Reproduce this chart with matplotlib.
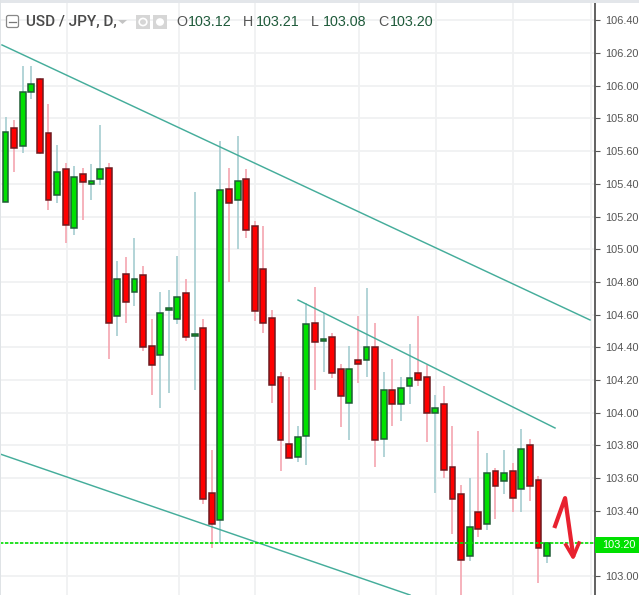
import numpy as np
import matplotlib
matplotlib.use("Agg")
import matplotlib.pyplot as plt
from matplotlib.patches import Rectangle, FancyBboxPatch

plt.rcParams['font.family'] = ['Liberation Sans', 'DejaVu Sans']

# daily candles
opens = [105.29, 105.74, 105.63, 105.96, 106.04, 105.71, 105.33, 105.49,
         105.13, 105.46, 105.40, 105.43, 105.50, 104.59, 104.85, 104.74,
         104.84, 104.41, 104.35, 104.63, 104.57, 104.73, 104.47, 104.52,
         103.51, 103.34, 105.37, 105.30, 105.43, 105.14, 104.88, 104.58,
         104.22, 103.81, 103.73, 103.86, 104.55, 104.44, 104.46, 104.27,
         104.06, 104.32, 104.32, 104.40, 103.84, 104.14, 104.05, 104.16,
         104.24, 104.22, 104.00, 104.05, 103.67, 103.50, 103.12, 103.39,
         103.32, 103.64, 103.58, 103.64, 103.53, 103.80, 103.59, 103.12]
highs = [105.81, 105.79, 106.12, 106.12, 106.05, 105.89, 105.64, 105.53,
         105.51, 105.50, 105.52, 105.76, 105.53, 104.93, 104.95, 105.07,
         104.90, 104.57, 104.74, 104.75, 104.96, 104.82, 105.35, 104.57,
         103.77, 105.66, 105.50, 105.69, 105.49, 105.17, 105.14, 104.63,
         104.25, 104.22, 103.92, 104.67, 104.77, 104.61, 104.49, 104.30,
         104.41, 104.59, 104.76, 104.55, 104.25, 104.33, 104.22, 104.42,
         104.59, 104.29, 104.11, 104.16, 103.92, 103.56, 103.60, 103.89,
         103.75, 103.66, 103.77, 103.69, 103.90, 103.84, 103.61, 103.21]
lows = [105.29, 105.47, 105.59, 105.92, 105.58, 105.24, 105.28, 105.04,
        105.09, 105.18, 105.30, 105.39, 104.33, 104.47, 104.55, 104.65,
        104.38, 104.11, 104.03, 104.12, 104.54, 104.44, 104.14, 103.44,
        103.17, 103.20, 104.80, 105.00, 105.07, 104.56, 104.49, 104.06,
        103.64, 103.72, 103.70, 103.68, 104.14, 104.25, 104.21, 103.91,
        103.83, 104.18, 104.22, 103.67, 103.73, 103.92, 103.95, 104.05,
        104.16, 103.82, 103.51, 103.60, 103.26, 102.88, 103.09, 103.24,
        103.28, 103.35, 103.50, 103.39, 103.39, 103.46, 102.96, 103.08]
closes = [105.72, 105.62, 105.96, 106.01, 105.59, 105.30, 105.47, 105.15,
          105.44, 105.41, 105.42, 105.49, 104.55, 104.82, 104.68, 104.82,
          104.40, 104.29, 104.61, 104.64, 104.71, 104.46, 104.48, 103.47,
          103.32, 105.36, 105.28, 105.42, 105.12, 104.62, 104.55, 104.17,
          103.83, 103.72, 103.85, 104.54, 104.43, 104.45, 104.24, 104.10,
          104.27, 104.30, 104.40, 103.83, 104.14, 104.05, 104.15, 104.21,
          104.20, 104.00, 104.03, 103.65, 103.47, 103.10, 103.30, 103.29,
          103.63, 103.55, 103.63, 103.48, 103.78, 103.55, 103.17, 103.20]

# hand drawn channel lines and arrow, candle number / price
line1_x = [-0.41, 68.0]
line1_y = [106.25, 104.567]
line2_x = [34.03, 63.93]
line2_y = [104.689, 103.906]
line3_x = [-0.64, 47.06]
line3_y = [103.747, 102.884]
arrow_x = [63.93, 65.1, 66.03]
arrow_y = [103.306, 103.477, 103.129]
head_x = [65.2, 66.03, 66.72]
head_y = [103.19, 103.116, 103.202]

price_ticks = [103.0, 103.2, 103.4, 103.6, 103.8, 104.0, 104.2, 104.4, 104.6,
               104.8, 105.0, 105.2, 105.4, 105.6, 105.8, 106.0, 106.2, 106.4]
date_grid = [7.1, 20.13, 29.03, 41.13, 50.09, 59.05, 68.1]
last_price = 103.20

GREEN = '#00e000'
RED = '#ff0000'
TEAL = '#45ad9b'
TEXT = '#555555'
VAL = '#1e5a3a'

fig = plt.figure(figsize=(6.39, 5.95), dpi=100, facecolor='white')
ax = fig.add_axes([0, 0, 595 / 639, 1])
ax.set_xlim(-0.64, 68.58)
ax.set_ylim(102.884, 106.525)
for s in ['top', 'left', 'bottom']:
    ax.spines[s].set_visible(False)
ax.spines['right'].set_color('#555555')
ax.spines['right'].set_linewidth(1.3)
ax.spines['right'].set_bounds(102.884, 106.505)

ax.set_xticks([])
ax.yaxis.tick_right()
ax.set_yticks(price_ticks)
# the last price tag takes the place of the 103.20 label
tick_labels = ['' if p == last_price else '%.2f' % p for p in price_ticks]
ax.set_yticklabels(tick_labels, fontsize=7.9, color=TEXT)
ax.tick_params(axis='y', length=3.5, width=0.8, color='#555555', pad=4)

for p in price_ticks:
    ax.axhline(p, color='#f0f1f2', lw=1.3, zorder=1)
for d in date_grid:
    ax.axvline(d, color='#f0f1f2', lw=1.3, zorder=1)

idx = np.arange(len(opens))
o = np.array(opens)
c = np.array(closes)
up = c >= o

ax.vlines(idx[up], np.array(lows)[up], np.array(highs)[up], color='#a6cdd1', lw=1.2, zorder=2)
ax.vlines(idx[~up], np.array(lows)[~up], np.array(highs)[~up], color='#f5a6b0', lw=1.2, zorder=2)
ax.bar(idx[up], (c - o)[up], bottom=o[up], width=0.68, color=GREEN,
       edgecolor='#1f5c35', linewidth=1.1, zorder=3)
ax.bar(idx[~up], (c - o)[~up], bottom=o[~up], width=0.68, color=RED,
       edgecolor='#6e1a1f', linewidth=1.1, zorder=3)

ax.plot(line1_x, line1_y, color=TEAL, lw=1.05, zorder=4)
ax.plot(line2_x, line2_y, color=TEAL, lw=1.05, zorder=4)
ax.plot(line3_x, line3_y, color=TEAL, lw=1.05, zorder=4)
ax.axhline(last_price, color=GREEN, lw=1.2, ls=(0, (2, 1)), zorder=4)

ax.plot(arrow_x, arrow_y, color='#e8212f', lw=3.0, solid_joinstyle='round', zorder=5)
ax.plot(head_x, head_y, color='#e8212f', lw=2.6, solid_joinstyle='round', zorder=5)

# price tag on the scale
fig.add_artist(Rectangle((595 / 639, 1 - 553 / 595), 44 / 639, 16 / 595,
                         transform=fig.transFigure, color=GREEN, lw=0, zorder=6))
fig.text(618.5 / 639, 1 - 545 / 595, '%.2f' % last_price, color='white', fontsize=7.9,
         ha='center', va='center', zorder=7)

# top strip
fig.add_artist(Rectangle((0, 1 - 3 / 595), 1, 3 / 595, transform=fig.transFigure,
                         color='#e3e6ea', lw=0, zorder=6))
fig.add_artist(Rectangle((0, 0), 1 / 639, 1, transform=fig.transFigure,
                         color='#dfe3e6', lw=0, zorder=6))

# header
def px(x, y):
    return x / 639, 1 - y / 595

fig.add_artist(FancyBboxPatch(px(6.5, 27.5), 12 / 639, 12 / 595,
                              boxstyle='round,pad=0,rounding_size=0.003',
                              transform=fig.transFigure, fc='white', ec='#888888', lw=0.9))
fig.add_artist(plt.Line2D([9 / 639, 16 / 639], [1 - 21.5 / 595] * 2,
                          transform=fig.transFigure, color='#777777', lw=0.9))
x0, y0 = px(26, 22)
fig.text(x0, y0, 'USD / JPY, D,', fontsize=11, color='#4a4a4a', va='center',
         family='Roboto', fontweight='medium')
for left in [136, 153]:
    fig.add_artist(Rectangle(px(left, 29), 14 / 639, 14 / 595, transform=fig.transFigure,
                             color='#d6d6d6', lw=0))
fig.add_artist(plt.Polygon([px(118, 20), px(127, 20), px(122.5, 24)], closed=True,
                           transform=fig.transFigure, color='#c4c4c4', lw=0))
fig.add_artist(plt.Circle(px(143, 22), 0.006, transform=fig.transFigure, fc='none',
                          ec='white', lw=1.2))
fig.add_artist(plt.Circle(px(160, 22), 0.005, transform=fig.transFigure, fc='white',
                          ec='white', lw=1.2))

labels = ['O', 'H', 'L', 'C']
label_x = [176, 243, 311, 378]
value_x = [188, 256, 323, 390]
values = ['103.12', '103.21', '103.08', '103.20']
for lab, lx, vx, val in zip(labels, label_x, value_x, values):
    fig.text(*px(lx, 22), lab, fontsize=10.3, color='#555555', va='center')
    fig.text(*px(vx, 22), val, fontsize=10.3, color=VAL, va='center')

fig.savefig('out.png', dpi=100)
